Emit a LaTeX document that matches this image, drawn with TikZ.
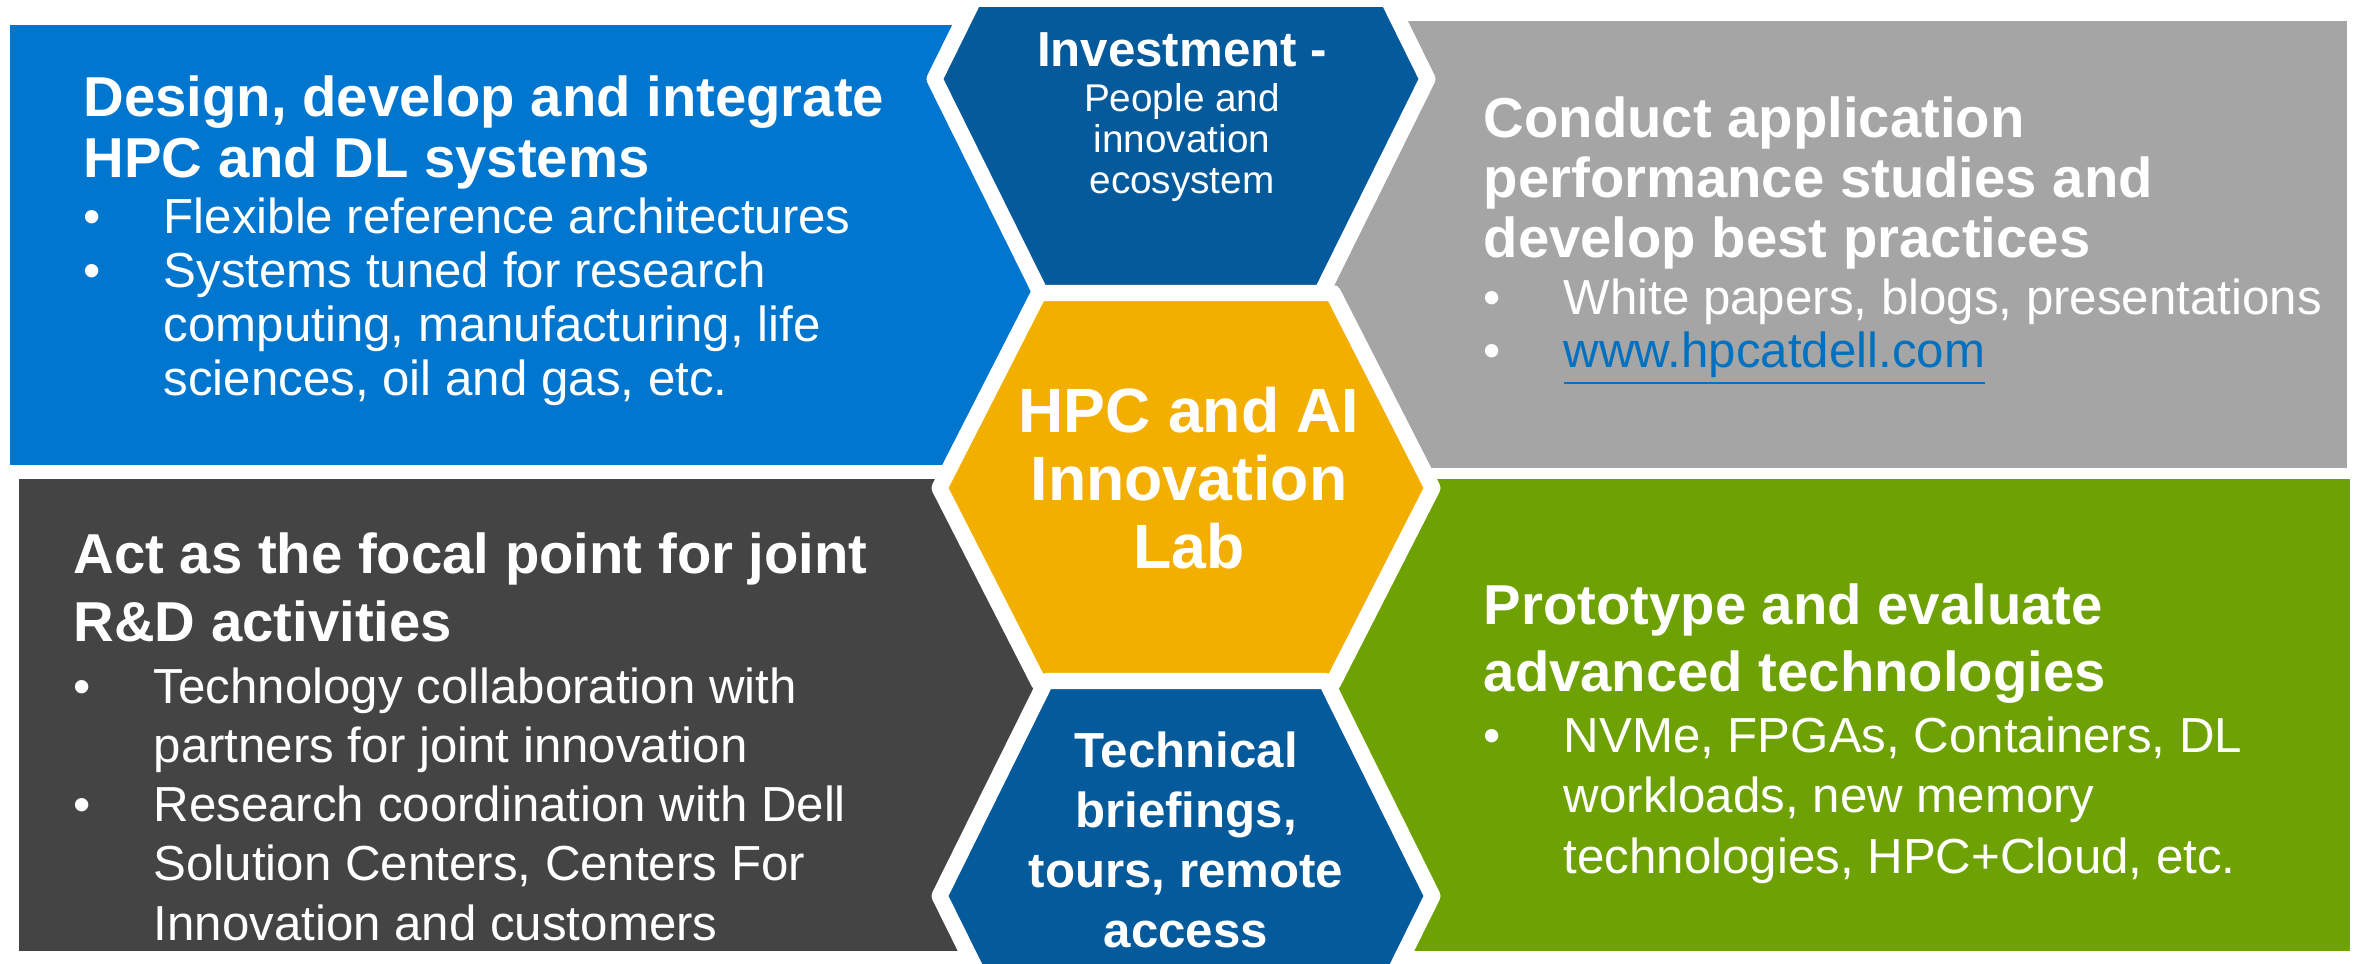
\documentclass[tikz,border=0pt]{standalone}
\usepackage{fontspec}
\setmainfont{Liberation Sans}
\usepackage{tikz}

\definecolor{dellblue}{RGB}{0,118,206}
\definecolor{hexblue}{RGB}{5,90,155}
\definecolor{labgold}{RGB}{242,175,0}
\definecolor{panelgrey}{RGB}{165,165,165}
\definecolor{paneldark}{RGB}{68,68,68}
\definecolor{panelgreen}{RGB}{110,162,4}
\definecolor{link}{RGB}{0,112,192}

\newcommand{\bul}{\makebox[0.8cm][l]{\textbullet}}
\newcommand{\ind}{\hspace*{0.8cm}}

% multi-line nodes sit on the baseline of their last line
\tikzset{
  panel/.style = {inner sep=0pt, anchor=base west, align=left, text=white},
  boxhead/.style = {panel, font=\bfseries\fontsize{16pt}{#1}\selectfont},
  boxlist/.style = {panel, font=\fontsize{14pt}{#1}\selectfont},
  hexcell/.style = {draw=white, line width=0.16cm, line join=round},
  hextext/.style = {inner sep=0pt, anchor=base, align=center, text=white}
}

\begin{document}
\begin{tikzpicture}[x=0.01cm, y=-0.01cm]
  \fill[white] (0,0) rectangle (2357,964);
  \useasboundingbox (0,0) rectangle (2357,964);

  % four panels behind the hexagons
  \fill[dellblue]   (10,25)    rectangle (1190,465);
  \fill[panelgrey]  (1180,21)  rectangle (2347,468);
  \fill[paneldark]  (19,479)   rectangle (1190,951);
  \fill[panelgreen] (1180,479) rectangle (2350,951);

  % hexagon column
  \filldraw[hexcell, fill=hexblue] (974,-1) -- (1388,-1) -- (1427.5,79) -- (1321,294)
    -- (1041,294) -- (934.5,79) -- cycle;
  \filldraw[hexcell, fill=labgold] (939.5,488) -- (1039,293) -- (1333,293) -- (1432.5,488)
    -- (1333,683) -- (1039,683) -- cycle;
  \filldraw[hexcell, fill=hexblue] (939.5,896) -- (1046,681) -- (1326,681) -- (1432.5,896)
    -- (1326,1111) -- (1046,1111) -- cycle;

  \node[hextext, font=\bfseries\fontsize{14pt}{17pt}\selectfont] (inv) at (1182,67) {Investment -};
  \node[hextext, font=\fontsize{11pt}{11.7pt}\selectfont] (invsub) at (1182,194)
    {People and\\innovation\\ecosystem};
  \node[hextext, font=\bfseries\fontsize{17.8pt}{19.3pt}\selectfont] (lab) at (1189,568)
    {HPC and AI\\Innovation\\Lab};
  \node[hextext, font=\bfseries\fontsize{14pt}{17pt}\selectfont] (tours) at (1186,947)
    {Technical\\briefings,\\tours, remote\\access};

  % panel texts
  \node[boxhead=17.4pt] (design) at (83,178)
    {Design, develop and integrate\\HPC and DL systems};
  \node[boxlist=15.4pt] (designlist) at (83,396)
    {\bul Flexible reference architectures\\
     \bul Systems tuned for research\\
     \ind computing, manufacturing, life\\
     \ind sciences, oil and gas, etc.};

  \node[boxhead=17.1pt] (conduct) at (1483,258)
    {Conduct application\\performance studies and\\develop best practices};
  \node[boxlist=15.1pt] (conductlist) at (1483,368)
    {\bul White papers, blogs, presentations\\
     \bul\textcolor{link}{\underline{www.hpcatdell.com}}};

  \node[boxhead=19.6pt] (focal) at (73,642)
    {Act as the focal point for joint\\R\&D activities};
  \node[boxlist=16.8pt] (focallist) at (73,940)
    {\bul Technology collaboration with\\
     \ind partners for joint innovation\\
     \bul Research coordination with Dell\\
     \ind Solution Centers, Centers For\\
     \ind Innovation and customers};

  \node[boxhead=19.1pt] (proto) at (1483,692)
    {Prototype and evaluate\\advanced technologies};
  \node[boxlist=17.1pt] (protolist) at (1483,873)
    {\bul NVMe, FPGAs, Containers, DL\\
     \ind workloads, new memory\\
     \ind technologies, HPC+Cloud, etc.};
\end{tikzpicture}
\end{document}
